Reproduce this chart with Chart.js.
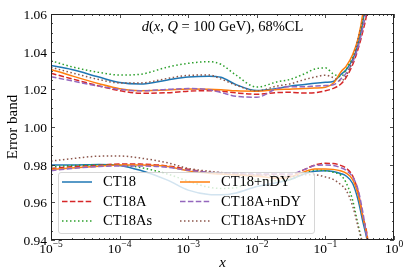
<!DOCTYPE html>
<html>
<head>
<meta charset="utf-8">
<script src="https://cdn.jsdelivr.net/npm/chart.js@4.4.1/dist/chart.umd.min.js"></script>
<style>
  html, body { margin: 0; padding: 0; background: #fff; }
</style>
</head>
<body>
<canvas id="chart" width="407" height="271"></canvas>
<script>
// x grid (momentum fraction)
const xs = [1e-5, 2e-5, 5e-5, 1e-4, 2e-4, 5e-4, 1e-3, 2e-3, 3e-3, 5e-3, 1e-2, 2e-2, 3e-2,
            5e-2, 7e-2, 0.1, 0.13, 0.17, 0.2, 0.25, 0.3, 0.35, 0.4, 0.45];

// upper edges of the error bands
const ct18Up   = [1.0326, 1.0305, 1.0265, 1.0236, 1.0228, 1.0250, 1.0265, 1.0270, 1.0264, 1.0225, 1.0194, 1.0205, 1.0217,
                  1.0226, 1.0232, 1.0237, 1.0242, 1.0280, 1.0303, 1.0360, 1.0440, 1.0555, 1.0720, 1.0900];
const ct18nUp  = [1.0306, 1.0272, 1.0230, 1.0203, 1.0193, 1.0196, 1.0202, 1.0201, 1.0198, 1.0192, 1.0190, 1.0199, 1.0201,
                  1.0204, 1.0207, 1.0211, 1.0232, 1.0295, 1.0322, 1.0385, 1.0470, 1.0600, 1.0800, 1.1000];
const ct18AUp  = [1.0285, 1.0256, 1.0218, 1.0193, 1.0179, 1.0182, 1.0190, 1.0193, 1.0190, 1.0181, 1.0174, 1.0183, 1.0184,
                  1.0180, 1.0182, 1.0192, 1.0205, 1.0230, 1.0262, 1.0332, 1.0415, 1.0505, 1.0600, 1.0750];
const ct18AnUp = [1.0267, 1.0245, 1.0217, 1.0200, 1.0192, 1.0200, 1.0204, 1.0198, 1.0183, 1.0163, 1.0158, 1.0205, 1.0214,
                  1.0214, 1.0217, 1.0220, 1.0224, 1.0257, 1.0285, 1.0345, 1.0426, 1.0525, 1.0630, 1.0800];
const ct18AsUp = [1.0352, 1.0320, 1.0290, 1.0276, 1.0280, 1.0318, 1.0338, 1.0347, 1.0333, 1.0275, 1.0212, 1.0240, 1.0252,
                  1.0283, 1.0308, 1.0314, 1.0282, 1.0268, 1.0305, 1.0375, 1.0455, 1.0555, 1.0650, 1.0800];
const ct18AsnUp= [1.0317, 1.0288, 1.0252, 1.0234, 1.0234, 1.0258, 1.0274, 1.0276, 1.0255, 1.0222, 1.0192, 1.0218, 1.0228,
                  1.0252, 1.0265, 1.0275, 1.0262, 1.0245, 1.0272, 1.0355, 1.0470, 1.0570, 1.0680, 1.0800];

// lower edges
const ct18Lo   = [0.9798, 0.9798, 0.9801, 0.9796, 0.9770, 0.9718, 0.9665, 0.9642, 0.9640, 0.9650, 0.9684, 0.9705, 0.9720,
                  0.9752, 0.9765, 0.9768, 0.9764, 0.9752, 0.9740, 0.9700, 0.9612, 0.9500, 0.9410, 0.9300];
const ct18nLo  = [0.9775, 0.9782, 0.9792, 0.9798, 0.9798, 0.9790, 0.9767, 0.9755, 0.9750, 0.9745, 0.9739, 0.9728, 0.9733,
                  0.9763, 0.9777, 0.9777, 0.9775, 0.9766, 0.9755, 0.9720, 0.9640, 0.9525, 0.9430, 0.9300];
const ct18ALo  = [0.9780, 0.9789, 0.9797, 0.9803, 0.9803, 0.9793, 0.9776, 0.9758, 0.9753, 0.9750, 0.9745, 0.9750, 0.9745,
                  0.9775, 0.9798, 0.9807, 0.9806, 0.9795, 0.9782, 0.9740, 0.9655, 0.9530, 0.9440, 0.9300];
const ct18AnLo = [0.9768, 0.9780, 0.9790, 0.9793, 0.9793, 0.9786, 0.9770, 0.9760, 0.9757, 0.9755, 0.9752, 0.9752, 0.9750,
                  0.9775, 0.9795, 0.9798, 0.9796, 0.9783, 0.9770, 0.9735, 0.9666, 0.9550, 0.9420, 0.9300];
const ct18AsLo = [0.9789, 0.9795, 0.9798, 0.9797, 0.9785, 0.9750, 0.9713, 0.9680, 0.9674, 0.9678, 0.9718, 0.9715, 0.9720,
                  0.9755, 0.9772, 0.9768, 0.9760, 0.9742, 0.9705, 0.9610, 0.9480, 0.9380, 0.9300, 0.9200];
const ct18AsnLo= [0.9819, 0.9832, 0.9845, 0.9846, 0.9835, 0.9810, 0.9780, 0.9765, 0.9758, 0.9752, 0.9746, 0.9740, 0.9736,
                  0.9746, 0.9746, 0.9735, 0.9722, 0.9692, 0.9665, 0.9580, 0.9470, 0.9380, 0.9300, 0.9200];

const setNames = ["CT18", "CT18A", "CT18As", "CT18+nDY", "CT18A+nDY", "CT18As+nDY"];
const yTicks = [0.94, 0.96, 0.98, 1.00, 1.02, 1.04, 1.06];
const xTickExps = [-5, -4, -3, -2, -1, 0];

const FONT = '"Liberation Serif", "Times New Roman", serif';
const DASH = [5.5, 2.4];
const DOT = [1.5, 2.5];

// name -> [colour, dash, upper, lower]
const sets = {
  "CT18":       ["#1f77b4", [],   ct18Up,    ct18Lo],
  "CT18A":      ["#d62728", DASH, ct18AUp,   ct18ALo],
  "CT18As":     ["#2ca02c", DOT,  ct18AsUp,  ct18AsLo],
  "CT18+nDY":   ["#ff7f0e", [],   ct18nUp,   ct18nLo],
  "CT18A+nDY":  ["#9467bd", DASH, ct18AnUp,  ct18AnLo],
  "CT18As+nDY": ["#8c564b", DOT,  ct18AsnUp, ct18AsnLo],
};

const datasets = [];
setNames.slice().reverse().forEach((name) => {
  const [col, dash, up, lo] = sets[name];
  [up, lo].forEach((arr) => {
    datasets.push({
      label: name,
      data: xs.map((x, i) => ({ x: x, y: arr[i] })),
      borderColor: col,
      borderWidth: 1.5,
      borderDash: dash,
      pointRadius: 0,
      fill: false,
      cubicInterpolationMode: "monotone",
    });
  });
});

// legend box inside the plot, drawn over the lines like matplotlib's (alpha 0.8)
const legendBox = {
  id: "legendBox",
  afterDatasetsDraw(chart) {
    const ctx = chart.ctx;
    ctx.save();
    const x0 = 58.5, y0 = 172.5, w = 256, h = 61, r = 2.5;
    ctx.beginPath();
    ctx.roundRect(x0, y0, w, h, r);
    ctx.fillStyle = "rgba(255,255,255,0.8)";
    ctx.fill();
    ctx.strokeStyle = "rgba(204,204,204,0.8)";
    ctx.lineWidth = 1;
    ctx.stroke();

    ctx.font = "14.5px " + FONT;
    ctx.textBaseline = "middle";
    ctx.fillStyle = "#000";
    const cols = [[62, 92, 103], [180, 210, 221]];
    const rows = [182, 201.5, 221];
    setNames.forEach((name, k) => {
      const c = cols[Math.floor(k / 3)], yy = rows[k % 3];
      const [col, dash] = sets[name];
      ctx.beginPath();
      ctx.setLineDash(dash);
      ctx.strokeStyle = col;
      ctx.lineWidth = 1.5;
      ctx.moveTo(c[0], yy);
      ctx.lineTo(c[1], yy);
      ctx.stroke();
      ctx.setLineDash([]);
      ctx.fillText(name, c[2], yy + 0.5);
    });
    ctx.restore();
  },
};

// axes frame, inward ticks, tick labels and titles
const frame = {
  id: "frame",
  afterDraw(chart) {
    const ctx = chart.ctx;
    const xs_ = chart.scales.x, ys_ = chart.scales.y;
    const a = chart.chartArea;
    ctx.save();
    ctx.strokeStyle = "#222";
    ctx.lineWidth = 1;
    ctx.strokeRect(Math.round(a.left) + 0.5, Math.round(a.top) + 0.5,
                   Math.round(a.right - a.left) - 1, Math.round(a.bottom - a.top) - 1);

    ctx.lineWidth = 0.8;
    ctx.beginPath();
    // y ticks
    for (let v = 0.94; v <= 1.0601; v += 0.005) {
      const major = Math.abs(v * 50 - Math.round(v * 50)) < 1e-6;
      const L = major ? 4 : 2;
      const py = Math.round(ys_.getPixelForValue(v)) + 0.5;
      ctx.moveTo(a.left, py); ctx.lineTo(a.left + L, py);
      ctx.moveTo(a.right, py); ctx.lineTo(a.right - L, py);
    }
    // x ticks (log)
    for (let e = -5; e <= 0; e++) {
      for (let m = 1; m <= 9; m++) {
        const v = m * Math.pow(10, e);
        if (v > 1.0000001) break;
        const L = m === 1 ? 4 : 2;
        const px = Math.round(xs_.getPixelForValue(v)) + 0.5;
        ctx.moveTo(px, a.bottom); ctx.lineTo(px, a.bottom - L);
        ctx.moveTo(px, a.top); ctx.lineTo(px, a.top + L);
      }
    }
    ctx.stroke();

    ctx.fillStyle = "#000";
    ctx.font = "13.5px " + FONT;
    ctx.textAlign = "right";
    ctx.textBaseline = "middle";
    yTicks.forEach((v) => {
      ctx.fillText(v.toFixed(2), a.left - 4, ys_.getPixelForValue(v) + 1.5);
    });

    ctx.textBaseline = "alphabetic";
    ctx.textAlign = "left";
    xTickExps.forEach((e) => {
      const px = xs_.getPixelForValue(Math.pow(10, e));
      const base = "10", ex = e === 0 ? "0" : "\u2212" + (-e);
      ctx.font = "13.5px " + FONT;
      const wb = ctx.measureText(base).width;
      ctx.font = "9.5px " + FONT;
      const we = ctx.measureText(ex).width;
      const x0 = px - (wb + we) / 2;
      ctx.font = "13.5px " + FONT;
      ctx.fillText(base, x0, 253);
      ctx.font = "9.5px " + FONT;
      ctx.fillText(ex, x0 + wb, 247);
    });

    // axis titles
    ctx.font = "italic 15px " + FONT;
    ctx.textAlign = "center";
    ctx.fillText("x", (a.left + a.right) / 2, 267);
    ctx.save();
    ctx.translate(13, (a.top + a.bottom) / 2);
    ctx.rotate(-Math.PI / 2);
    ctx.font = "15px " + FONT;
    ctx.textBaseline = "middle";
    ctx.fillText("Error band", 0, 0);
    ctx.restore();

    // in-plot title, mixed italic / roman pieces
    const parts = [["d", true], ["(", false], ["x", true], [", ", false], ["Q", true],
                   [" = 100 GeV), 68%CL", false]];
    ctx.textAlign = "left";
    ctx.textBaseline = "middle";
    let total = 0;
    parts.forEach((p) => {
      ctx.font = (p[1] ? "italic " : "") + "14.5px " + FONT;
      total += ctx.measureText(p[0]).width;
    });
    let tx = 222.5 - total / 2;
    parts.forEach((p) => {
      ctx.font = (p[1] ? "italic " : "") + "14.5px " + FONT;
      ctx.fillText(p[0], tx, 27.5);
      tx += ctx.measureText(p[0]).width;
    });
    ctx.restore();
  },
};

new Chart(document.getElementById("chart").getContext("2d"), {
  type: "line",
  data: { datasets: datasets },
  options: {
    responsive: false,
    animation: false,
    layout: { padding: { left: 51, right: 13, top: 14, bottom: 31 } },
    plugins: { legend: { display: false }, tooltip: { enabled: false } },
    scales: {
      x: { type: "logarithmic", min: 1e-5, max: 1, display: false },
      y: { type: "linear", min: 0.94, max: 1.06, display: false },
    },
  },
  plugins: [legendBox, frame],
});
</script>
</body>
</html>
